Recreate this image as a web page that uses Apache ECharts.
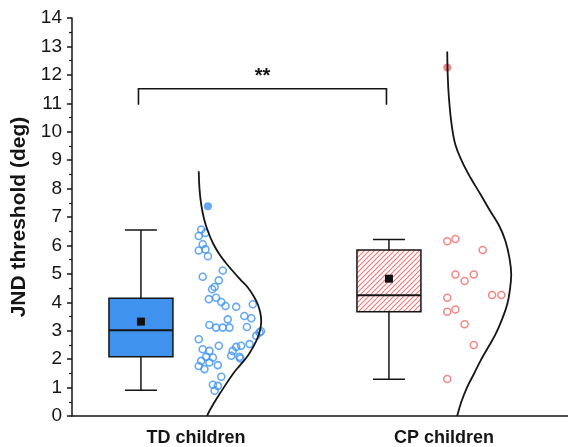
<!DOCTYPE html>
<html><head><meta charset="utf-8">
<script src="https://cdn.jsdelivr.net/npm/echarts@6/dist/echarts.min.js"></script>
<style>html,body{margin:0;padding:0;background:#fff}#c{width:568px;height:447px}</style>
</head><body><div id="c"></div>
<script>
// ---------- data ----------
const categories = ['TD children', 'CP children'];
// [min, Q1, median, Q3, max]
const boxStats = [[0.91, 2.08, 3.02, 4.14, 6.54], [1.29, 3.67, 4.25, 5.84, 6.21]];
const means = [3.32, 4.83];
// individual points: [value, jitter (fraction of category band)]
const tdPoints = [[6.56,0.011],[6.44,0.028],[6.33,0.001],[6.04,0.017],[5.82,0.001],[5.86,0.028],[5.62,0.038],[5.12,0.098],[4.90,0.017],[4.77,0.082],[4.54,0.065],[4.46,0.055],[4.11,0.042],[4.16,0.071],[4.01,0.092],[3.87,0.109],[3.84,0.152],[3.93,0.219],[3.52,0.185],[3.44,0.213],[3.20,0.044],[3.11,0.071],[3.11,0.098],[3.40,0.118],[3.11,0.125],[3.13,0.195],[2.94,0.246],[2.98,0.252],[2.82,0.233],[2.70,0.001],[2.47,0.082],[2.35,0.017],[2.29,0.044],[2.47,0.172],[2.43,0.152],[2.53,0.206],[2.29,0.138],[2.08,0.031],[2.06,0.058],[2.12,0.132],[2.08,0.165],[2.02,0.169],[1.94,0.011],[1.88,0.044],[1.79,0.078],[1.76,0.001],[1.65,0.024],[1.38,0.092],[1.10,0.058],[1.06,0.078],[0.89,0.065]];
const tdOutliers = [[7.38,0.038]];
const cpPoints = [[6.15,0.003],[6.23,0.036],[5.84,0.146],[4.98,0.036],[4.98,0.110],[4.75,0.073],[4.16,0.003],[4.26,0.184],[4.26,0.221],[3.67,0.003],[3.75,0.036],[3.23,0.073],[2.50,0.110],[1.30,0.003]];
const cpOutliers = [[12.26,0.003]];
// distribution curves: [value, width (fraction of category band)]
const tdCurve = [[0,0.036],[0.07,0.038],[0.42,0.060],[0.77,0.085],[1.47,0.138],[1.8,0.169],[2.12,0.199],[2.45,0.222],[2.76,0.239],[3.05,0.249],[3.34,0.253],[3.64,0.249],[3.93,0.239],[4.22,0.222],[4.52,0.199],[4.8,0.169],[5.10,0.138],[5.4,0.109],[5.68,0.085],[6.05,0.060],[6.5,0.038],[6.95,0.022],[7.44,0.011],[8.0,0.004],[8.61,0.001]];
const cpCurve = [[0,0.043],[0.5,0.060],[1.01,0.083],[1.45,0.109],[1.94,0.137],[2.4,0.167],[2.88,0.198],[3.4,0.224],[3.93,0.245],[4.45,0.256],[4.98,0.261],[5.55,0.254],[6.15,0.238],[6.7,0.212],[7.2,0.177],[7.8,0.137],[8.38,0.097],[8.95,0.063],[9.54,0.036],[10.3,0.020],[11.3,0.009],[12.0,0.005],[12.82,0.003]];
const sigLabel = '**';
const sigLevels = [10.95, 11.51]; // bracket foot, bracket top
const yRange = { min: 0, max: 14, interval: 1 };
const yTitle = 'JND threshold (deg)';

// ---------- layout / style ----------
const BOX_SHIFT = -0.222, BOX_W = 0.258, CLOUD_SHIFT = 0.010, SIG_SHIFT = -0.232;
const BLUE = '#3f93ef', RED = '#ee6a6a', INK = '#151515';

const pc = document.createElement('canvas');
pc.width = 5; pc.height = 5;
const g = pc.getContext('2d');
g.fillStyle = '#fff'; g.fillRect(0, 0, 5, 5);
g.strokeStyle = '#f07878'; g.lineWidth = 1.1;
g.beginPath();
g.moveTo(-1, 6); g.lineTo(6, -1);
g.moveTo(-1, 1); g.lineTo(1, -1);
g.moveTo(4, 6); g.lineTo(6, 4);
g.stroke();
const hatch = { image: pc, repeat: 'repeat' };

const cloud = (pts, i) => pts.map(p => [i + 0.5 + CLOUD_SHIFT + p[1], p[0]]);
const curve = (c, i) => c.map(p => [i + 0.5 + CLOUD_SHIFT + p[1], p[0]]);

const chart = echarts.init(document.getElementById('c'), null, { renderer: 'canvas' });
chart.setOption({
  animation: false,
  backgroundColor: '#fff',
  grid: { left: 72, right: 0, top: 18, bottom: 30, containLabel: false },
  xAxis: [{
    type: 'category', data: categories, boundaryGap: true,
    axisLine: { lineStyle: { color: INK, width: 1.5 } },
    axisTick: { alignWithLabel: true, length: 5, lineStyle: { color: INK, width: 1.5 } },
    axisLabel: { fontSize: 18, fontWeight: 'bold', color: INK, margin: 13, fontFamily: 'Liberation Sans, Arial' },
    splitLine: { show: false }
  }, {
    type: 'value', min: 0, max: 2, show: false
  }],
  yAxis: {
    type: 'value', min: yRange.min, max: yRange.max, interval: yRange.interval,
    name: yTitle, nameLocation: 'middle', nameGap: 30, nameRotate: 90,
    nameTextStyle: { fontSize: 21, fontWeight: 'bold', color: INK, fontFamily: 'Liberation Sans, Arial' },
    axisLine: { show: true, lineStyle: { color: INK, width: 1.5 } },
    axisTick: { show: true, length: 5, lineStyle: { color: INK, width: 1.5 } },
    minorTick: { show: true, splitNumber: 2, length: 3, lineStyle: { color: INK, width: 1.2 } },
    axisLabel: { fontSize: 19, color: INK, margin: 10, fontFamily: 'Liberation Sans, Arial' },
    splitLine: { show: false }
  },
  series: [
    { type: 'line', xAxisIndex: 1, data: curve(tdCurve, 0), smooth: 0.4, symbol: 'none', lineStyle: { color: INK, width: 1.8 }, z: 3 },
    { type: 'line', xAxisIndex: 1, data: curve(cpCurve, 1), smooth: 0.4, symbol: 'none', lineStyle: { color: INK, width: 1.8 }, z: 3 },
    { type: 'scatter', xAxisIndex: 1, data: cloud(tdPoints, 0), symbol: 'circle', symbolSize: 7, itemStyle: { color: 'rgba(0,0,0,0)', borderColor: BLUE, borderWidth: 1.6 }, z: 2 },
    { type: 'scatter', xAxisIndex: 1, data: cloud(tdOutliers, 0), symbol: 'circle', symbolSize: 8, itemStyle: { color: BLUE }, z: 2 },
    { type: 'scatter', xAxisIndex: 1, data: cloud(cpPoints, 1), symbol: 'circle', symbolSize: 7, itemStyle: { color: 'rgba(0,0,0,0)', borderColor: RED, borderWidth: 1.5 }, z: 2 },
    { type: 'scatter', xAxisIndex: 1, data: cloud(cpOutliers, 1), symbol: 'circle', symbolSize: 8, itemStyle: { color: RED }, z: 2 },
    {
      type: 'custom', xAxisIndex: 1, z: 4,
      data: boxStats.map((s, i) => [i].concat(s, [means[i]])),
      encode: { x: 0, y: [1, 2, 3, 4, 5, 6] },
      renderItem: function (params, api) {
        const i = api.value(0);
        const mn = api.value(1), q1 = api.value(2), md = api.value(3), q3 = api.value(4), mx = api.value(5), mean = api.value(6);
        const cx = i + 0.5 + BOX_SHIFT;
        const c = (x, y) => api.coord([x, y]);
        const tl = c(cx - BOX_W / 2, q3), br = c(cx + BOX_W / 2, q1);
        const ln = (a, b, w) => ({ type: 'line', shape: { x1: a[0], y1: a[1], x2: b[0], y2: b[1] }, style: { stroke: INK, lineWidth: w || 1.5 } });
        const m = c(cx, mean);
        return {
          type: 'group', children: [
            ln(c(cx, q3), c(cx, mx)),
            ln(c(cx, q1), c(cx, mn)),
            ln(c(cx - BOX_W / 4, mx), c(cx + BOX_W / 4, mx)),
            ln(c(cx - BOX_W / 4, mn), c(cx + BOX_W / 4, mn)),
            { type: 'rect', shape: { x: tl[0], y: tl[1], width: br[0] - tl[0], height: br[1] - tl[1] }, style: { fill: i === 0 ? BLUE : hatch, stroke: INK, lineWidth: 1.5 } },
            ln(c(cx - BOX_W / 2, md), c(cx + BOX_W / 2, md), 2),
            { type: 'rect', shape: { x: m[0] - 4, y: m[1] - 4, width: 8, height: 8 }, style: { fill: '#111' } }
          ]
        };
      }
    },
    {
      type: 'custom', xAxisIndex: 1, z: 4,
      data: [[0, 1, sigLevels[0], sigLevels[1]]],
      encode: { x: [0, 1], y: [2, 3] },
      renderItem: function (params, api) {
        const x0 = api.value(0) + 0.5 + SIG_SHIFT, x1 = api.value(1) + 0.5 + SIG_SHIFT;
        const lo = api.value(2), hi = api.value(3);
        const a = api.coord([x0, lo]), b = api.coord([x0, hi]), cc = api.coord([x1, hi]), d = api.coord([x1, lo]);
        return {
          type: 'group', children: [
            { type: 'polyline', shape: { points: [a, b, cc, d] }, style: { stroke: INK, lineWidth: 1.6, fill: null } },
            { type: 'text', x: (b[0] + cc[0]) / 2, y: b[1] - 2, style: { text: sigLabel, fill: INK, font: 'bold 20px Liberation Sans, Arial', align: 'center', verticalAlign: 'bottom' } }
          ]
        };
      }
    }
  ]
});
</script></body></html>
